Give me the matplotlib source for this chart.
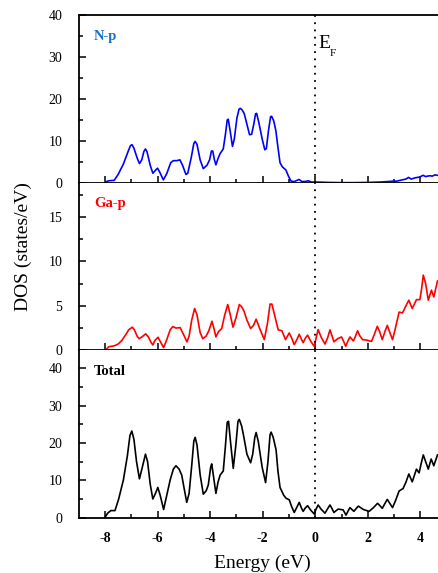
import matplotlib
matplotlib.use("Agg")
import matplotlib.pyplot as plt
from matplotlib.ticker import MultipleLocator

plt.rcParams['font.family'] = ['Liberation Serif', 'DejaVu Serif']
plt.rcParams['axes.unicode_minus'] = False

# N-p partial DOS
np_energy = [-7.95, -7.85, -7.65, -7.5, -7.3, -7.12, -7.03, -6.97, -6.9, -6.78, -6.69, -6.6, -6.52, -6.46, -6.4,
             -6.28, -6.18, -6.08, -6.0, -5.92, -5.78, -5.65, -5.5, -5.4, -5.27, -5.15, -5.05, -4.92, -4.85, -4.72,
             -4.62, -4.57, -4.5, -4.38, -4.26, -4.12, -4.02, -3.95, -3.9, -3.84, -3.78, -3.7, -3.62, -3.5, -3.42,
             -3.35, -3.31, -3.24, -3.15, -3.08, -2.98, -2.9, -2.85, -2.78, -2.7, -2.6, -2.5, -2.42, -2.34, -2.27,
             -2.23, -2.15, -2.02, -1.92, -1.86, -1.78, -1.7, -1.66, -1.58, -1.5, -1.42, -1.34, -1.25, -1.12, -1.02,
             -0.92, -0.8, -0.62, -0.5, -0.35, -0.27, -0.15, 0.0, 0.5, 1.0, 1.5, 2.0, 2.5, 2.97, 3.1, 3.3, 3.45,
             3.55, 3.65, 3.8, 3.98, 4.1, 4.2, 4.35, 4.45, 4.55, 4.65]
np_dos = [0.3, 0.5, 0.6, 2.0, 4.5, 7.5, 8.9, 9.1, 8.3, 6.0, 4.6, 5.5, 7.5, 8.1, 7.4,
          4.2, 2.3, 3.0, 3.5, 2.6, 0.7, 2.2, 4.8, 5.3, 5.3, 5.5, 4.2, 2.0, 2.3, 6.0,
          9.4, 9.9, 9.2, 5.5, 3.4, 4.2, 5.5, 7.6, 7.6, 5.6, 4.3, 5.8, 7.0, 8.1, 11.5,
          15.0, 15.2, 12.5, 8.7, 10.5, 15.5, 17.6, 17.8, 17.4, 16.5, 14.0, 11.5, 11.6, 14.0, 16.5,
          16.6, 14.5, 10.5, 7.9, 8.2, 12.5, 15.8, 15.9, 14.8, 12.5, 8.5, 4.8, 3.8, 3.1, 1.6,
          0.4, 0.3, 0.8, 0.3, 0.35, 0.5, 0.2, 0.2, 0.1, 0.05, 0.05, 0.1, 0.2, 0.4, 0.4, 0.7, 0.9,
          1.3, 0.9, 1.2, 1.4, 1.8, 1.5, 1.7, 1.6, 1.9, 1.8]

# Ga-p partial DOS
ga_energy = [-7.96, -7.85, -7.65, -7.5, -7.36, -7.2, -7.1, -6.96, -6.88, -6.78, -6.7, -6.6, -6.45, -6.35, -6.25,
             -6.18, -6.1, -5.98, -5.9, -5.77, -5.65, -5.52, -5.42, -5.3, -5.14, -5.0, -4.88, -4.8, -4.7, -4.59,
             -4.5, -4.38, -4.28, -4.15, -4.05, -3.93, -3.85, -3.78, -3.68, -3.56, -3.45, -3.33, -3.25, -3.13, -3.02,
             -2.89, -2.8, -2.71, -2.6, -2.46, -2.35, -2.25, -2.12, -1.94, -1.82, -1.72, -1.65, -1.55, -1.41, -1.27,
             -1.13, -0.99, -0.9, -0.8, -0.7, -0.61, -0.52, -0.46, -0.37, -0.29, -0.17, -0.04, 0.05, 0.11, 0.22,
             0.37, 0.47, 0.56, 0.64, 0.71, 0.85, 1.0, 1.08, 1.16, 1.25, 1.32, 1.45, 1.52, 1.61, 1.7,
             1.8, 1.95, 2.14, 2.25, 2.36, 2.45, 2.55, 2.65, 2.74, 2.85, 2.94, 3.05, 3.19, 3.32, 3.45,
             3.56, 3.69, 3.85, 3.98, 4.05, 4.11, 4.2, 4.3, 4.42, 4.51, 4.65]
ga_dos = [0.1, 0.4, 0.5, 0.7, 1.1, 1.8, 2.3, 2.6, 2.3, 1.6, 1.3, 1.5, 1.85, 1.5, 0.9,
          0.6, 1.1, 1.47, 1.0, 0.3, 1.2, 2.3, 2.67, 2.5, 2.55, 1.7, 0.94, 1.6, 3.4, 4.7,
          4.0, 2.0, 1.3, 1.6, 2.2, 3.27, 2.4, 1.5, 2.1, 2.45, 3.9, 5.15, 4.2, 2.6, 3.6,
          5.15, 4.9, 4.4, 3.4, 2.45, 2.8, 3.5, 2.5, 1.2, 3.0, 5.2, 5.2, 4.0, 2.3, 2.2,
          1.2, 1.95, 1.4, 0.64, 1.2, 1.8, 1.2, 0.86, 1.4, 1.7, 1.0, 0.45, 1.6, 2.33, 1.5,
          0.7, 1.4, 2.3, 1.6, 0.95, 1.3, 1.5, 1.0, 0.45, 1.1, 1.5, 1.05, 1.5, 2.2, 1.6,
          1.2, 1.15, 1.0, 1.8, 2.7, 2.1, 1.2, 2.1, 2.8, 1.9, 1.2, 2.5, 4.3, 4.2, 5.0,
          5.64, 4.7, 5.7, 5.7, 7.0, 8.46, 7.5, 5.64, 6.77, 6.0, 7.8]

# total DOS
tot_energy = [-8.0, -7.9, -7.78, -7.62, -7.48, -7.3, -7.15, -7.05, -6.98, -6.9, -6.8, -6.69, -6.58, -6.46, -6.38,
              -6.28, -6.18, -6.08, -5.99, -5.9, -5.77, -5.65, -5.52, -5.4, -5.3, -5.18, -5.08, -4.98, -4.89, -4.8,
              -4.7, -4.62, -4.57, -4.5, -4.38, -4.26, -4.15, -4.07, -3.98, -3.94, -3.87, -3.78, -3.7, -3.62, -3.5,
              -3.42, -3.35, -3.3, -3.22, -3.12, -3.02, -2.94, -2.89, -2.8, -2.72, -2.6, -2.46, -2.38, -2.3, -2.25,
              -2.17, -2.02, -1.89, -1.8, -1.72, -1.68, -1.6, -1.49, -1.42, -1.34, -1.2, -1.11, -0.99, -0.9, -0.8,
              -0.7, -0.61, -0.52, -0.46, -0.38, -0.29, -0.17, -0.04, 0.03, 0.11, 0.22, 0.37, 0.47, 0.56, 0.64,
              0.71, 0.87, 1.06, 1.17, 1.25, 1.32, 1.47, 1.55, 1.64, 1.83, 2.05, 2.2, 2.37, 2.45, 2.55,
              2.65, 2.74, 2.84, 2.94, 3.05, 3.19, 3.34, 3.45, 3.56, 3.69, 3.85, 3.95, 4.03, 4.11, 4.2,
              4.3, 4.41, 4.51, 4.65]
tot_dos = [0.1, 1.2, 1.9, 1.9, 5.0, 10.1, 16.5, 22.0, 23.2, 21.0, 15.0, 10.4, 13.5, 17.0, 15.0,
           9.0, 5.0, 6.5, 8.1, 6.0, 2.2, 6.0, 10.1, 13.0, 13.9, 13.0, 11.4, 7.5, 4.1, 6.5,
           14.0, 20.5, 21.5, 19.5, 11.5, 6.3, 7.2, 8.75, 13.5, 14.4, 11.0, 6.5, 9.5, 11.4, 12.5,
           19.0, 25.5, 25.8, 20.0, 13.2, 19.5, 25.8, 26.3, 24.5, 21.7, 17.0, 14.7, 17.0, 21.5, 22.8,
           20.5, 13.5, 9.4, 15.0, 22.2, 22.9, 21.5, 18.1, 12.5, 8.1, 6.0, 5.2, 4.8, 3.0, 1.4,
           2.8, 4.1, 2.5, 1.7, 2.6, 3.2, 2.0, 1.0, 2.3, 3.4, 2.3, 1.2, 2.4, 3.4, 2.4,
           1.4, 2.3, 2.1, 0.7, 1.8, 2.7, 1.7, 2.4, 3.1, 2.2, 1.7, 2.6, 3.85, 3.3, 2.5,
           3.8, 4.9, 3.8, 2.7, 4.5, 7.15, 7.8, 9.5, 11.7, 9.6, 13.0, 12.0, 14.5, 16.8, 15.0,
           13.0, 15.7, 13.9, 16.8]

fig = plt.figure(figsize=(4.38, 5.73), dpi=100)

left, width, h = 0.1815, 0.8185, 0.2922
bottoms = [0.0965 + 2 * h, 0.0965 + h, 0.0965]

panels = [
    (np_energy, np_dos, 'blue', 'N-p', '#1a6fc9', 40, 10, 5),
    (ga_energy, ga_dos, 'red', 'Ga-p', 'red', 18.85, 5, 2.5),
    (tot_energy, tot_dos, 'black', 'Total', 'black', 44.8, 10, 5),
]

axes = []
for i, (e, d, col, lab, labcol, ymax, major, minor) in enumerate(panels):
    ax = fig.add_axes([left, bottoms[i], width, h])
    ax.plot(e, d, color=col, lw=1.2)
    ax.axvline(0, color='black', ls=(0, (1, 3)), lw=1.3)
    ax.set_xlim(-8.97, 4.67)
    ax.set_ylim(0, ymax)
    ax.xaxis.set_major_locator(MultipleLocator(2))
    ax.xaxis.set_minor_locator(MultipleLocator(1))
    ax.yaxis.set_major_locator(MultipleLocator(major))
    ax.yaxis.set_minor_locator(MultipleLocator(minor))
    ax.tick_params(which='both', direction='in', top=False, right=False, width=1.1)
    ax.tick_params(axis='y', which='major', length=5, labelsize=10, pad=12.5)
    ax.tick_params(axis='y', which='minor', length=3)
    ax.tick_params(axis='x', which='major', length=5, labelsize=10, pad=10)
    ax.tick_params(axis='x', which='minor', length=3)
    ax.spines['right'].set_visible(False)
    if i > 0:
        ax.spines['top'].set_visible(False)
    for s in ['left', 'bottom', 'top']:
        ax.spines[s].set_linewidth(1.3)
    if i < 2:
        ax.tick_params(axis='x', labelbottom=False)
    ax.text(0.04, 0.875, lab, transform=ax.transAxes, color=labcol, fontsize=10.5,
            fontweight='bold', va='center', ha='left')
    axes.append(ax)

for t in axes[2].get_xticklabels():
    t.set_fontweight('bold')

# Fermi level label, E with a small subscript F
axes[0].text(0.12, 32.3, 'E', fontsize=14, va='baseline', ha='left')
axes[0].text(0.53, 30.4, 'F', fontsize=8, va='baseline', ha='left')

fig.text(0.054, 0.569, 'DOS (states/eV)', rotation=90, fontsize=14, ha='center', va='center')
fig.text(0.599, 0.017, 'Energy (eV)', fontsize=14, ha='center', va='center')

fig.savefig('out.png', dpi=100)
